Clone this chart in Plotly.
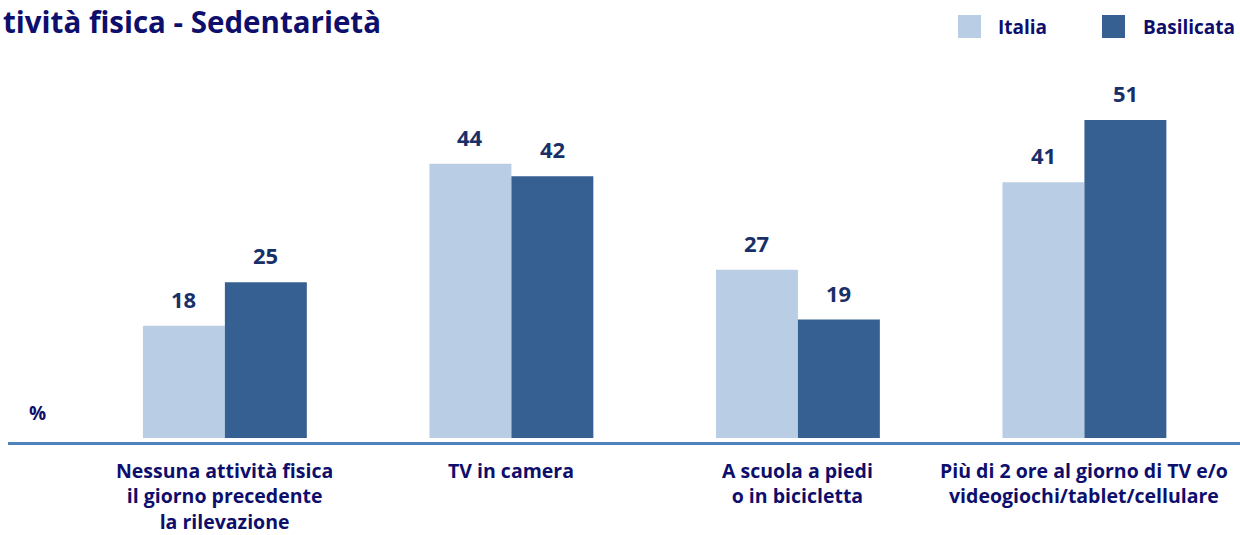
import plotly.graph_objects as go

categorie = [
    "Nessuna attività fisica<br>il giorno precedente<br>la rilevazione",
    "TV in camera",
    "A scuola a piedi<br>o in bicicletta",
    "Più di 2 ore al giorno di TV e/o<br>videogiochi/tablet/cellulare",
]
italia = [18, 44, 27, 41]
basilicata = [25, 42, 19, 51]

COL_ITA = "#B9CDE5"
COL_BAS = "#376092"
NAVY = "#0E0E6C"
VAL = "#182F68"
FONT = "Open Sans"

W, H = 1240, 535
L, R, T, B = 10, 0, 60, 97
PW, PH = W - L - R, H - T - B


def px_x(x):
    return (x - L) / PW


def px_y(y):
    return (H - B - y) / PH


pos = list(range(len(categorie)))

fig = go.Figure()
fig.add_trace(go.Bar(x=pos, y=italia, name="Italia", marker_color=COL_ITA,
                     marker_line_width=0, showlegend=False))
fig.add_trace(go.Bar(x=pos, y=basilicata, name="Basilicata", marker_color=COL_BAS,
                     marker_line_width=0, showlegend=False))

ann = []
for i in pos:
    # etichette valori
    for vals, shift in ((italia, -41), (basilicata, 41)):
        ann.append(dict(x=i, y=vals[i], xref="x", yref="y", text="<b>%d</b>" % vals[i],
                        showarrow=False, xshift=shift, xanchor="center", yanchor="bottom",
                        yshift=10, font=dict(family=FONT, size=22, color=VAL)))
    # etichette categorie
    ann.append(dict(x=i, y=0, xref="x", yref="paper", text="<b>%s</b>" % categorie[i],
                    showarrow=False, xanchor="center", yanchor="top", align="center",
                    yshift=-18, borderpad=0,
                    font=dict(family=FONT, size=19.5, color=NAVY)))

ann.append(dict(x=px_x(37), y=px_y(413), xref="paper", yref="paper", text="<b>%</b>",
                showarrow=False, xanchor="center", yanchor="middle",
                font=dict(family=FONT, size=19, color=NAVY)))
ann.append(dict(x=px_x(2), y=px_y(0), xref="paper", yref="paper",
                text="<b>tività fisica - Sedentarietà</b>", xanchor="left", yanchor="top",
                showarrow=False, borderpad=0, font=dict(family=FONT, size=29.5, color=NAVY)))

# legenda
shapes = []
for name, col, x0, tx in (("Italia", COL_ITA, 958, 996), ("Basilicata", COL_BAS, 1102, 1141)):
    shapes.append(dict(type="rect", xref="paper", yref="paper", x0=px_x(x0), x1=px_x(x0 + 23),
                       y0=px_y(38), y1=px_y(15), fillcolor=col, line_width=0))
    ann.append(dict(x=px_x(tx), y=px_y(27), xref="paper", yref="paper", text="<b>%s</b>" % name,
                    xanchor="left", yanchor="middle", showarrow=False,
                    font=dict(family=FONT, size=19, color=NAVY)))

# linea di base
shapes.append(dict(type="line", xref="paper", yref="paper", x0=px_x(8), x1=px_x(1240),
                   y0=px_y(443.5), y1=px_y(443.5), line=dict(color="#4F81BD", width=3)))

fig.update_layout(
    width=W, height=H,
    margin=dict(l=L, r=R, t=T, b=B),
    barmode="group", bargap=0.428, bargroupgap=0,
    plot_bgcolor="white", paper_bgcolor="white",
    annotations=ann, shapes=shapes,
)
fig.update_xaxes(range=[-0.75, 3.543], showticklabels=False, showgrid=False, zeroline=False,
                 showline=False, ticks="")
fig.update_yaxes(range=[0, PH / 6.235], visible=False, showgrid=False, zeroline=False)

fig.write_html("out.html", config={"displayModeBar": False},
               post_script="document.body.style.margin='0';")
